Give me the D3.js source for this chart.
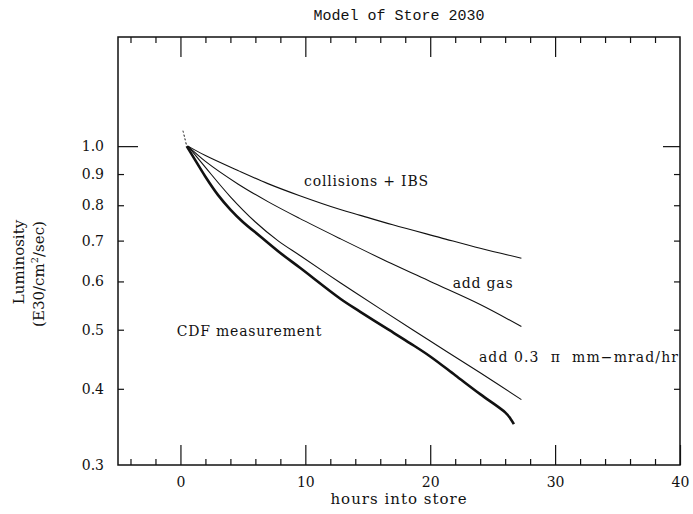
<!DOCTYPE html>
<html><head><meta charset="utf-8">
<script src="https://d3js.org/d3.v7.min.js"></script>
<style>body{margin:0;background:#fff}svg{display:block}text{white-space:pre}</style>
</head><body>
<script>
// ---- data ----
const xTickLabels = [0, 10, 20, 30, 40];
const xMinorTicks = [-4, -2, 2, 4, 6, 8, 12, 14, 16, 18, 22, 24, 26, 28, 32, 34, 36, 38];
const yTickLabels = [1.0, 0.9, 0.8, 0.7, 0.6, 0.5, 0.4, 0.3];

const seriesNames = ["collisions + IBS", "add gas", "add 0.3  \u03c0  mm\u2212mrad/hr", "CDF measurement"];

const collisionsHours = [0.6, 2, 4.6, 7, 9.5, 12.8, 14.4, 17, 20.8, 24, 27.3];
const collisionsLum   = [1.0, 0.965, 0.912, 0.868, 0.83, 0.787, 0.77, 0.743, 0.708, 0.68, 0.655];

const gasHours = [0.6, 2, 4.6, 7, 9.5, 12.8, 16, 20, 24, 27.3];
const gasLum   = [1.0, 0.944, 0.867, 0.811, 0.762, 0.705, 0.655, 0.600, 0.550, 0.506];

const emitHours = [0.6, 2, 4, 6, 7.8, 9.6, 12.8, 16, 20, 24, 27.3];
const emitLum   = [1.0, 0.923, 0.826, 0.751, 0.700, 0.661, 0.597, 0.541, 0.479, 0.425, 0.384];

const cdfTailHours = [0.2, 0.35, 0.5];
const cdfTailLum   = [1.06, 1.03, 1.0];
const cdfHours = [0.5, 1, 2, 3, 4, 5, 6.4, 8, 9.6, 12.8, 14.4, 16.6, 18.4, 20, 22, 24, 26, 26.4, 26.7];
const cdfLum   = [1.0, 0.962, 0.891, 0.832, 0.787, 0.751, 0.711, 0.668, 0.631, 0.562, 0.535, 0.501, 0.475, 0.452, 0.421, 0.392, 0.366, 0.358, 0.350];

// ---- layout ----
const W = 693, H = 514;
const m = {left: 118, right: 13, top: 37, bottom: 49};
const svg = d3.select("body").append("svg").attr("width", W).attr("height", H);

const x = d3.scaleLinear().domain([-5, 40]).range([m.left, W - m.right]);
const y = d3.scaleLog().domain([0.3, 1.51]).range([H - m.bottom, m.top]);

const serif = "'DejaVu Serif', serif";
const ink = "#111";

// frame
svg.append("rect").attr("x", x(-5)).attr("y", y(1.51))
  .attr("width", x(40) - x(-5)).attr("height", y(0.3) - y(1.51))
  .attr("fill", "none").attr("stroke", ink).attr("stroke-width", 1.5);

// axes via d3.axis
const gB = svg.append("g").attr("transform", `translate(0,${y(0.3)})`);
gB.call(d3.axisBottom(x).tickValues(xTickLabels).tickSize(-20).tickPadding(12).tickFormat(d3.format("d")));
gB.append("g").call(d3.axisBottom(x).tickValues(xMinorTicks).tickSize(-6).tickFormat(""));
const gT = svg.append("g").attr("transform", `translate(0,${y(1.51)})`);
gT.call(d3.axisTop(x).tickValues(xTickLabels.slice(0, 4)).tickSize(-20).tickFormat(""));
gT.append("g").call(d3.axisTop(x).tickValues(xMinorTicks).tickSize(-6).tickFormat(""));

const gL = svg.append("g").attr("transform", `translate(${x(-5)},0)`);
gL.call(d3.axisLeft(y).tickValues(yTickLabels).tickSize(0).tickPadding(14).tickFormat(d3.format(".1f")));
gL.append("g").call(d3.axisLeft(y).tickValues([1.0]).tickSize(-20).tickFormat(""));
gL.append("g").call(d3.axisLeft(y).tickValues(yTickLabels.slice(1, 7)).tickSize(-6).tickFormat(""));
const gR = svg.append("g").attr("transform", `translate(${x(40)},0)`);
gR.call(d3.axisRight(y).tickValues([1.0]).tickSize(-17).tickFormat(""));
gR.append("g").call(d3.axisRight(y).tickValues(yTickLabels.slice(1, 7)).tickSize(-6).tickFormat(""));

svg.selectAll(".domain").remove();
svg.selectAll(".tick line").attr("stroke", ink).attr("stroke-width", 1.2);
svg.selectAll(".tick text").attr("fill", ink).attr("font-family", serif).attr("font-size", 14);

// lines
const line = d3.line().x(d => x(d[0])).y(d => y(d[1])).curve(d3.curveCatmullRom.alpha(0.5));
const zip = (a, b) => a.map((v, i) => [v, b[i]]);
[[collisionsHours, collisionsLum], [gasHours, gasLum], [emitHours, emitLum]].forEach(([h, l]) => {
  svg.append("path").attr("d", line(zip(h, l))).attr("fill", "none").attr("stroke", ink).attr("stroke-width", 1.1);
});
svg.append("path").attr("d", line(zip(cdfTailHours, cdfTailLum))).attr("fill", "none")
  .attr("stroke", ink).attr("stroke-width", 1).attr("stroke-dasharray", "2,2");
svg.append("path").attr("d", line(zip(cdfHours, cdfLum))).attr("fill", "none")
  .attr("stroke", ink).attr("stroke-width", 2.6);

// series labels
const labelPos = [[9.9, 0.86], [21.8, 0.585], [23.9, 0.4426], [-0.3, 0.488]];
const labelSpacing = [0.8, 0.8, 1.1, 0.8];
seriesNames.forEach((s, i) => {
  svg.append("text").attr("x", x(labelPos[i][0])).attr("y", y(labelPos[i][1]))
    .attr("font-family", serif).attr("font-size", 14).attr("letter-spacing", labelSpacing[i]).attr("fill", ink).text(s);
});

// title & axis titles
svg.append("text").attr("x", (x(-5) + x(40)) / 2).attr("y", 20).attr("text-anchor", "middle")
  .attr("font-family", "'Liberation Mono', monospace").attr("font-size", 15).attr("fill", ink).text("Model of Store 2030");
svg.append("text").attr("x", (x(-5) + x(40)) / 2).attr("y", 504).attr("text-anchor", "middle")
  .attr("font-family", serif).attr("font-size", 15).attr("letter-spacing", 1).attr("fill", ink).text("hours into store");
svg.append("text").attr("transform", "translate(24,262) rotate(-90)").attr("text-anchor", "middle")
  .attr("font-family", serif).attr("font-size", 15).attr("fill", ink).text("Luminosity");
const t2 = svg.append("text").attr("transform", "translate(44,274) rotate(-90)").attr("text-anchor", "middle")
  .attr("font-family", serif).attr("font-size", 15).attr("fill", ink);
t2.append("tspan").text("(E30/cm");
t2.append("tspan").attr("dy", -6).attr("font-size", 10).text("2");
t2.append("tspan").attr("dy", 6).text("/sec)");
</script>
</body></html>
